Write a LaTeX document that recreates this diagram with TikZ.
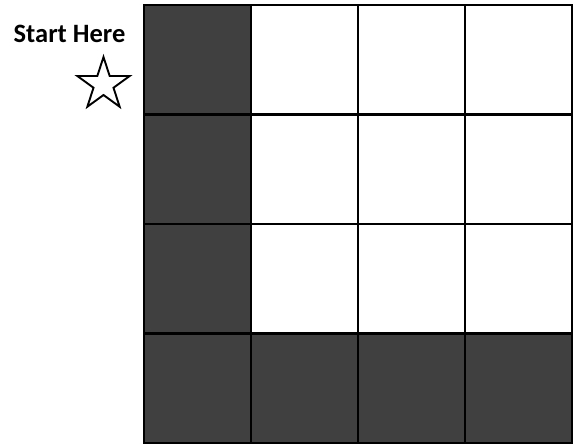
\documentclass[tikz,border=0pt]{standalone}
\usepackage{fontspec}
\setmainfont{Carlito}
\usepackage{xcolor}
\usetikzlibrary{shapes.geometric,positioning}
\definecolor{darkcell}{HTML}{404040}

\begin{document}
\begin{tikzpicture}[
    x=1pt,y=1pt,
    cell/.style={draw,line width=2.6pt,fill=white,minimum width=107pt,minimum height=109.5pt,inner sep=0pt,outer sep=0pt},
    shaded/.style={cell,fill=darkcell},
    startstar/.style={draw,star,star points=5,star point ratio=2.618,minimum size=55pt,inner sep=0pt,line width=1.9pt},
    label/.style={font=\bfseries\fontsize{26.5}{30}\selectfont,anchor=base},
]
    \useasboundingbox (0,0) rectangle (574,-445);

    % white part of the grid
    \foreach \r in {0,1,2}
        \foreach \c in {1,2,3}
            \node[cell] (cell-\r-\c) at ({144+107*(\c+0.5)},{-5-109.5*(\r+0.5)}) {};

    % dark column and dark row
    \foreach \r in {0,1,2,3}
        \node[shaded] (cell-\r-0) at ({144+107*0.5},{-5-109.5*(\r+0.5)}) {};
    \foreach \c in {1,2,3}
        \node[shaded] (cell-3-\c) at ({144+107*(\c+0.5)},{-5-109.5*3.5}) {};

    \node[label] (start) at (69.5,-42) {Start Here};
    \node[startstar] (star) at (103.5,-84.5) {};
\end{tikzpicture}
\end{document}
